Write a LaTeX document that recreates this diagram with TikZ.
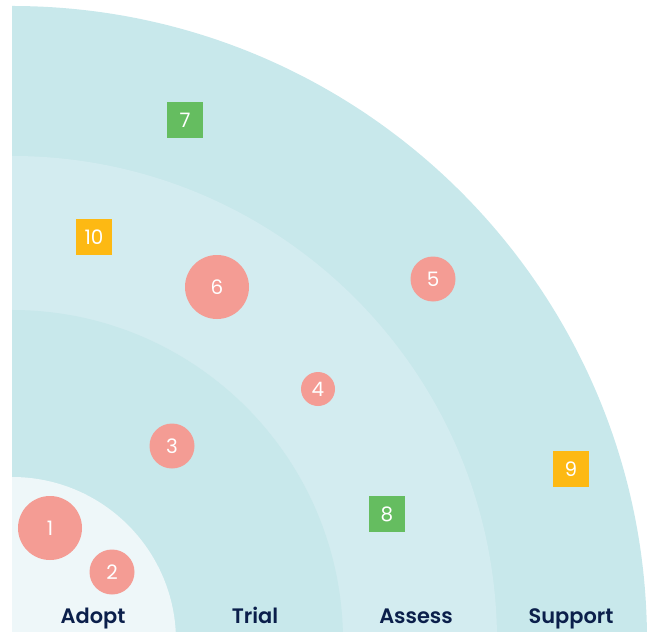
\documentclass[tikz,border=0pt]{standalone}
\usepackage{fontspec}
\setmainfont{Poppins}
\newfontfamily\labfont{Poppins SemiBold}
\definecolor{bandouter}{HTML}{C8E8EB}
\definecolor{bandassess}{HTML}{D3ECF0}
\definecolor{bandtrial}{HTML}{C8E8EB}
\definecolor{bandadopt}{HTML}{EEF7F9}
\definecolor{salmon}{HTML}{F49C94}
\definecolor{grn}{HTML}{65BD60}
\definecolor{orng}{HTML}{FDB913}
\definecolor{navy}{HTML}{0B1F4B}
\tikzset{
  bub/.style={circle, fill=salmon, text=white, inner sep=0pt, font=\fontsize{20}{20}\selectfont},
  sq/.style={rectangle, minimum size=36bp, inner sep=0pt, text=white, font=\fontsize{20}{20}\selectfont},
  ring/.style={font=\labfont\fontsize{21}{21}\selectfont, text=navy, anchor=base}
}
\begin{document}
\begin{tikzpicture}[x=1bp,y=-1bp]
\useasboundingbox (0,0) rectangle (649,632);
\begin{scope}
\clip (12,0) rectangle (649,632);
\fill[bandouter] (12,641) circle[radius=635bp];
\fill[bandassess] (12,641) circle[radius=485bp];
\fill[bandtrial] (12,641) circle[radius=331bp];
\fill[bandadopt] (12,641) circle[radius=164bp];
\end{scope}
\node[bub, minimum size=64bp] (n1) at (50,528) {1};
\node[bub, minimum size=45bp] (n2) at (112,572) {2};
\node[bub, minimum size=45bp] (n3) at (172,446) {3};
\node[bub, minimum size=34bp] (n4) at (318,389) {4};
\node[bub, minimum size=45bp] (n5) at (433,279) {5};
\node[bub, minimum size=64bp] (n6) at (217,287) {6};
\node[sq, fill=grn] (n7) at (185,120.5) {7};
\node[sq, fill=grn] (n8) at (387,514) {8};
\node[sq, fill=orng] (n9) at (571,469) {9};
\node[sq, fill=orng] (n10) at (94,237) {10};
\node[ring] (adopt) at (93,623) {Adopt};
\node[ring] (trial) at (255,623) {Trial};
\node[ring] (assess) at (416,623) {Assess};
\node[ring] (support) at (571,623) {Support};
\end{tikzpicture}
\end{document}
